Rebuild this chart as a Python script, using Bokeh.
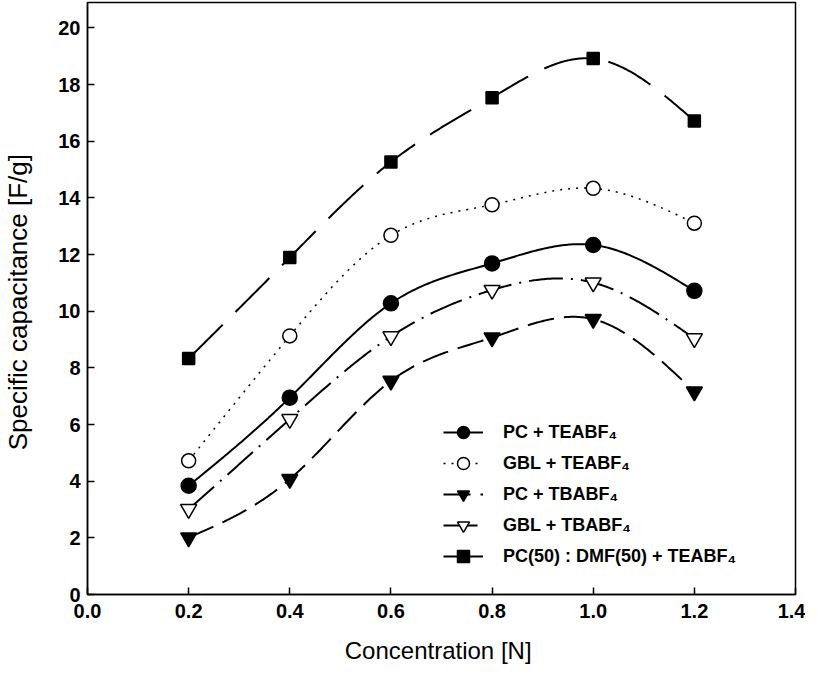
import numpy as np
from bokeh.plotting import figure
from bokeh.models import Range1d, FixedTicker, Legend, LegendItem, NumeralTickFormatter
from bokeh.embed import file_html
from bokeh.resources import INLINE

# ---------------- data ----------------
conc = [0.2, 0.4, 0.6, 0.8, 1.0, 1.2]
pc_teabf4 = [3.84, 6.95, 10.28, 11.69, 12.34, 10.72]
gbl_teabf4 = [4.72, 9.13, 12.68, 13.76, 14.34, 13.11]
pc_tbabf4 = [2.01, 4.07, 7.54, 9.07, 9.72, 7.16]
gbl_tbabf4 = [3.01, 6.19, 9.11, 10.75, 11.01, 9.04]
pc_dmf_teabf4 = [8.33, 11.90, 15.27, 17.54, 18.92, 16.72]

series_labels = ["PC + TEABF\u2084", "GBL + TEABF\u2084", "PC + TBABF\u2084",
                 "GBL + TBABF\u2084", "PC(50) : DMF(50) + TEABF\u2084"]
x_ticks = [0.0, 0.2, 0.4, 0.6, 0.8, 1.0, 1.2, 1.4]
y_ticks = [0, 2, 4, 6, 8, 10, 12, 14, 16, 18, 20]


def natural_spline(x, y, n=300):
    x = np.asarray(x, float)
    y = np.asarray(y, float)
    m = len(x)
    h = np.diff(x)
    A = np.zeros((m, m))
    r = np.zeros(m)
    A[0, 0] = A[-1, -1] = 1.0
    for i in range(1, m - 1):
        A[i, i - 1] = h[i - 1]
        A[i, i] = 2 * (h[i - 1] + h[i])
        A[i, i + 1] = h[i]
        r[i] = 3 * ((y[i + 1] - y[i]) / h[i] - (y[i] - y[i - 1]) / h[i - 1])
    c = np.linalg.solve(A, r)
    b = (y[1:] - y[:-1]) / h - h * (2 * c[:-1] + c[1:]) / 3
    d = (c[1:] - c[:-1]) / (3 * h)
    xs = np.linspace(x[0], x[-1], n)
    idx = np.clip(np.searchsorted(x, xs, side="right") - 1, 0, m - 2)
    dx = xs - x[idx]
    ys = y[idx] + b[idx] * dx + c[idx] * dx ** 2 + d[idx] * dx ** 3
    return xs, ys


p = figure(width=805, height=673, output_backend="svg", toolbar_location=None,
           x_range=Range1d(0, 1.4), y_range=Range1d(0, 20.9))
p.min_border_left = 86
p.min_border_right = 10
p.min_border_top = 2
p.min_border_bottom = 79
p.grid.visible = False
p.outline_line_color = "black"
p.outline_line_width = 1.5
p.outline_line_alpha = 1.0
p.background_fill_color = "white"
p.border_fill_color = "white"

FONT = "Liberation Sans"
for ax in (p.xaxis[0], p.yaxis[0]):
    ax.axis_line_color = "black"
    ax.axis_line_width = 1.5
    ax.major_tick_in = 7
    ax.major_tick_out = 0
    ax.major_tick_line_color = "black"
    ax.major_tick_line_width = 1.5
    ax.minor_tick_line_color = None
    ax.major_label_text_font = FONT
    ax.major_label_text_font_size = "20px"
    ax.major_label_text_font_style = "bold"
    ax.major_label_text_color = "black"
    ax.axis_label_text_font = FONT
    ax.axis_label_text_font_style = "normal"
    ax.axis_label_text_color = "black"

p.xaxis.axis_label_text_font_size = "24px"
p.yaxis.axis_label_text_font_size = "26px"
p.xaxis.ticker = FixedTicker(ticks=x_ticks)
p.xaxis.formatter = NumeralTickFormatter(format="0.0")
p.yaxis.ticker = FixedTicker(ticks=y_ticks)
p.xaxis.axis_label = "Concentration  [N]"
p.yaxis.axis_label = "Specific capacitance  [F/g]"
p.xaxis.major_label_standoff = 9
p.yaxis.major_label_standoff = 7
p.xaxis.axis_label_standoff = 16
p.yaxis.axis_label_standoff = 22

styles = [
    dict(y=pc_teabf4, dash="solid", marker="circle", size=15, fill="black", lw=2),
    dict(y=gbl_teabf4, dash="2 6", marker="circle", size=14, fill="white", lw=1.5),
    dict(y=pc_tbabf4, dash="27 10", marker="inverted_triangle", size=16, fill="black", lw=2),
    dict(y=gbl_tbabf4, dash="34 8 2 8", marker="inverted_triangle", size=16, fill="white", lw=2),
    dict(y=pc_dmf_teabf4, dash="48 18", marker="square", size=12, fill="black", lw=2),
]

items = []
for lab, st in zip(series_labels, styles):
    xs, ys = natural_spline(conc, st["y"])
    lr = p.line(xs, ys, line_color="black", line_width=st["lw"], line_dash=st["dash"])
    sr = p.scatter(conc, st["y"], marker=st["marker"], size=st["size"],
                   fill_color=st["fill"], line_color="black", line_width=1.5)
    items.append(LegendItem(label=lab, renderers=[lr, sr]))

legend = Legend(items=items, location=(356, 23))
legend.border_line_color = None
legend.background_fill_alpha = 0
legend.padding = 0
legend.margin = 0
legend.glyph_width = 40
legend.glyph_height = 30
legend.label_height = 30
legend.spacing = 1
legend.label_standoff = 20
legend.label_text_font = FONT
legend.label_text_font_size = "18px"
legend.label_text_font_style = "bold"
legend.label_text_color = "black"
p.add_layout(legend, "center")

open("out.html", "w").write(file_html(p, INLINE))
